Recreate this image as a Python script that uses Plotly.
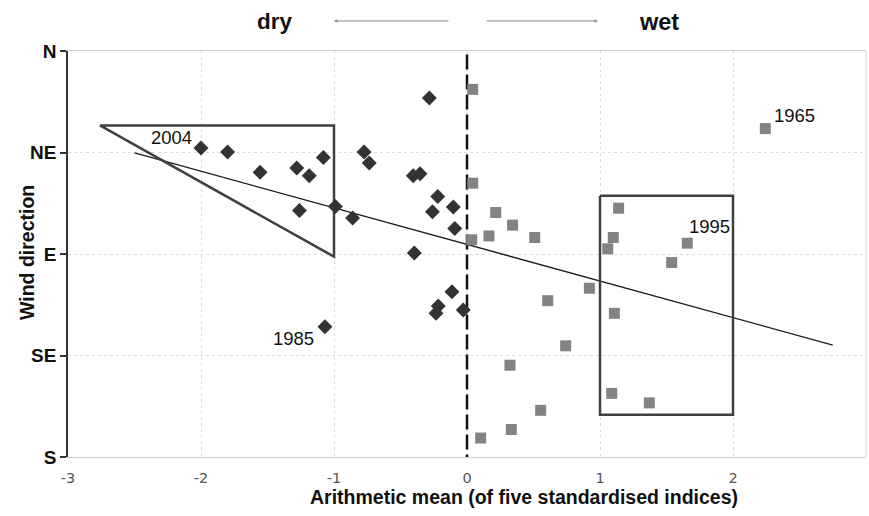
import plotly.graph_objects as go

# dry years (diamonds): x = arithmetic mean, y = wind direction in degrees (N=0, S=180)
dry_x = [-2.00, -1.80, -1.556, -1.28, -1.186, -1.08, -1.26, -0.99, -0.86, -0.774, -0.735,
         -0.404, -0.353, -0.22, -0.26, -0.103, -0.092, -0.396, -0.113, -0.283, -0.216,
         -0.233, -0.028, -1.068]
dry_y = [43.0, 44.8, 53.8, 51.9, 55.3, 47.2, 70.7, 68.9, 74.0, 44.8, 49.7,
         55.3, 54.4, 64.5, 71.3, 69.2, 78.7, 89.6, 106.7, 20.8, 113.1,
         116.3, 114.8, 122.3]

# wet years (squares)
wet_x = [0.043, 0.043, 0.216, 0.343, 0.165, 0.509, 0.035, 1.14, 1.10, 1.058, 1.539,
         2.243, 1.656, 0.92, 1.108, 1.088, 1.371, 0.607, 0.742, 0.323, 0.554, 0.333, 0.103]
wet_y = [17.0, 58.6, 71.6, 77.2, 82.0, 82.7, 83.7, 69.7, 82.7, 87.7, 93.8,
         34.4, 85.2, 105.2, 116.3, 151.8, 156.0, 110.7, 130.7, 139.3, 159.3, 167.8, 171.6]

# linear trend line endpoints
trend_x = [-2.5, 2.75]
trend_y = [45.2, 130.4]

# highlighted regions
tri_x = [-2.76, -1.0, -1.0, -2.76]
tri_y = [33.0, 33.0, 91.2, 33.0]
rect_x = [1.0, 2.0, 2.0, 1.0, 1.0]
rect_y = [64.2, 64.2, 161.3, 161.3, 64.2]

# zero line
zero_x = [0, 0]
zero_y = [1.5, 180]

# year labels
year_text = ["2004", "1965", "1995", "1985"]
year_x = [-2.22, 2.46, 1.827, -1.302]
year_y = [38.4, 28.4, 78.0, 127.6]

# axis ticks
y_tickvals = [0, 45, 90, 135, 180]
y_ticktext = ["N", "NE", "E", "SE", "S"]
x_tickvals = [-3, -2, -1, 0, 1, 2, 3]

fig = go.Figure()

fig.add_trace(go.Scatter(x=trend_x, y=trend_y, mode="lines",
                         line=dict(color="#1a1a1a", width=1.3), hoverinfo="skip"))
fig.add_trace(go.Scatter(x=tri_x, y=tri_y, mode="lines",
                         line=dict(color="#404040", width=2.5), hoverinfo="skip"))
fig.add_trace(go.Scatter(x=rect_x, y=rect_y, mode="lines",
                         line=dict(color="#404040", width=2.5), hoverinfo="skip"))
fig.add_trace(go.Scatter(x=zero_x, y=zero_y, mode="lines",
                         line=dict(color="#111111", width=2.5, dash="15px,5px"), hoverinfo="skip"))
fig.add_trace(go.Scatter(x=wet_x, y=wet_y, mode="markers",
                         marker=dict(symbol="square", size=11, color="#838383", line=dict(width=0))))
fig.add_trace(go.Scatter(x=dry_x, y=dry_y, mode="markers",
                         marker=dict(symbol="diamond", size=11.5, color="#333333", line=dict(width=0))))

for t, x, y in zip(year_text, year_x, year_y):
    fig.add_annotation(x=x, y=y, text=t, showarrow=False,
                       font=dict(family="Liberation Sans", size=18.5, color="#111111"))

# dry / wet header with arrows
fig.add_annotation(x=-1.44, y=1.072, yref="paper", yanchor="middle", text="<b>dry</b>", showarrow=False,
                   font=dict(family="Liberation Sans", size=22.5, color="#111111"))
fig.add_annotation(x=1.44, y=1.072, yref="paper", yanchor="middle", text="<b>wet</b>", showarrow=False,
                   font=dict(family="Liberation Sans", size=23.5, color="#111111"))
fig.add_annotation(x=-1.0, y=1.074, yref="paper", ax=116, ay=0, text="", showarrow=True,
                   arrowhead=2, arrowsize=0.7, arrowwidth=1, arrowcolor="#8a8a8a")
fig.add_annotation(x=0.985, y=1.074, yref="paper", ax=-113, ay=0, text="", showarrow=True,
                   arrowhead=2, arrowsize=0.7, arrowwidth=1, arrowcolor="#8a8a8a")

# axis titles (placed as in the reference)
fig.add_annotation(xref="paper", yref="paper", x=0.571, y=-0.099, xanchor="center", yanchor="middle",
                   text="<b>Arithmetic mean (of five standardised indices)</b>", showarrow=False,
                   font=dict(family="Liberation Sans", size=19.5, color="#111111"))
fig.add_annotation(xref="paper", yref="paper", x=-0.0514, y=0.505, xanchor="center", yanchor="middle",
                   textangle=-90, text="<b>Wind direction</b>", showarrow=False,
                   font=dict(family="Liberation Sans", size=19.5, color="#111111"))

# right border line
fig.add_shape(type="line", xref="paper", yref="paper", x0=1, x1=1, y0=0, y1=1,
              line=dict(color="#d5d5d5", width=1))

fig.update_layout(
    width=869, height=516,
    margin=dict(l=68, r=3, t=51, b=59),
    paper_bgcolor="white", plot_bgcolor="white",
    showlegend=False,
    xaxis=dict(range=[-3, 3], tickvals=x_tickvals, ticktext=[str(v) for v in x_tickvals],
               showgrid=True, gridcolor="#dddddd", griddash="dot", gridwidth=1,
               zeroline=False, showline=True, linecolor="#cccccc", linewidth=1, mirror=True,
               ticks="", ticklabelstandoff=8,
               tickfont=dict(family="DejaVu Sans", size=14.5, color="#555555")),
    yaxis=dict(range=[180, 0], tickvals=y_tickvals, ticktext=["<b>%s</b>" % t for t in y_ticktext],
               showgrid=True, gridcolor="#dddddd", griddash="dot", gridwidth=1,
               zeroline=False, showline=True, linecolor="#333333", linewidth=1.5,
               ticks="outside", ticklen=6, tickcolor="#333333", tickwidth=1.5,
               tickfont=dict(family="Liberation Sans", size=19, color="#111111")),
)

fig.write_html("out.html")
